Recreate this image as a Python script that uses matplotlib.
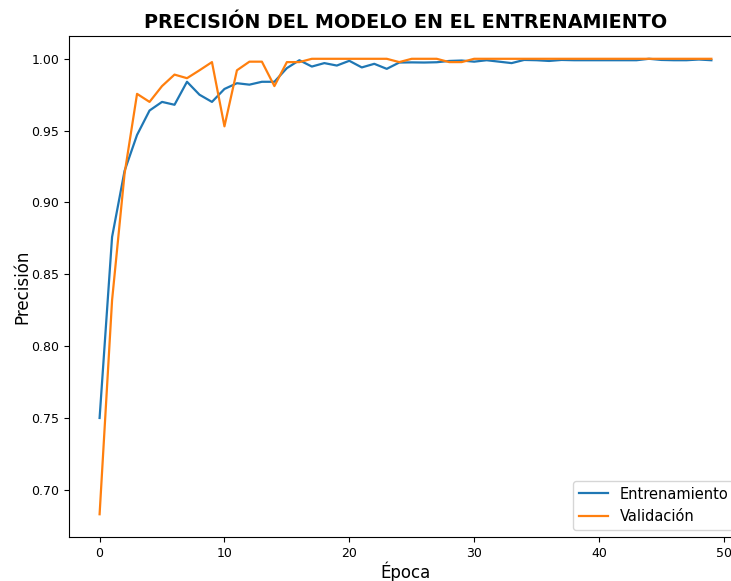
import matplotlib
matplotlib.use('Agg')
import matplotlib.pyplot as plt

epocas = list(range(50))

entrenamiento = [
    0.750, 0.876, 0.922, 0.947, 0.964, 0.970, 0.968, 0.984, 0.975, 0.970,
    0.979, 0.983, 0.982, 0.984, 0.984, 0.9935, 0.999, 0.9946, 0.997, 0.9953,
    0.9986, 0.994, 0.9965, 0.993, 0.9974, 0.9975, 0.9974, 0.9976, 0.9985, 0.9988,
    0.998, 0.999, 0.998, 0.997, 0.9992, 0.999, 0.9985, 0.9992, 0.999, 0.999,
    0.999, 0.999, 0.999, 0.999, 1.000, 0.9992, 0.999, 0.999, 0.9995, 0.999,
]

validacion = [
    0.683, 0.832, 0.920, 0.9756, 0.970, 0.981, 0.989, 0.9865, 0.992, 0.9977,
    0.953, 0.992, 0.998, 0.998, 0.981, 0.9977, 0.9977, 1.000, 1.000, 1.000,
    1.000, 1.000, 1.000, 1.000, 0.9977, 1.000, 1.000, 1.000, 0.9977, 0.9977,
    1.000, 1.000, 1.000, 1.000, 1.000, 1.000, 1.000, 1.000, 1.000, 1.000,
    1.000, 1.000, 1.000, 1.000, 1.000, 1.000, 1.000, 1.000, 1.000, 1.000,
]

fig = plt.figure(figsize=(7.31, 5.81), dpi=100)
fig.patch.set_facecolor('white')
# axes runs past the right edge, like the cropped original
ax = fig.add_axes([0.0944, 0.0757, 0.9206, 0.8623])

ax.plot(epocas, entrenamiento, color='#1f77b4', lw=1.6, label='Entrenamiento')
ax.plot(epocas, validacion, color='#ff7f0e', lw=1.6, label='Validación')

ax.set_title('PRECISIÓN DEL MODELO EN EL ENTRENAMIENTO', fontsize=13.8, fontweight='bold')
ax.set_xlabel('Época', fontsize=12, labelpad=1)
ax.set_ylabel('Precisión', fontsize=12, labelpad=0)
ax.tick_params(labelsize=9)
ax.legend(loc='lower right', fontsize=10.5)

fig.savefig('out.png', dpi=100)
